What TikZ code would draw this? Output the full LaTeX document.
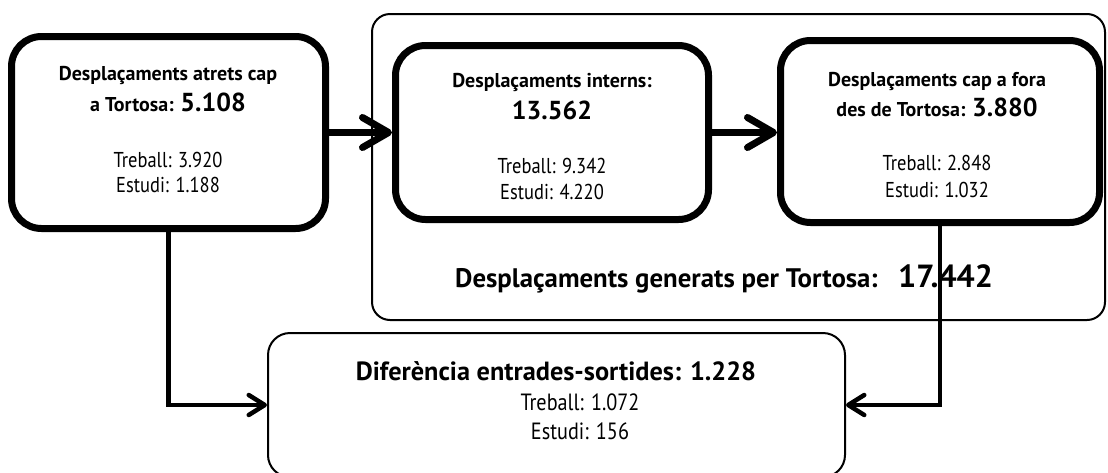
\documentclass[tikz,border=0pt]{standalone}
\usepackage{fontspec}
\setmainfont{PT Sans}
\newfontfamily\condfont[FakeStretch=0.86]{PT Sans}
\usetikzlibrary{arrows.meta}
\tikzset{
  bigbox/.style={draw, line width=7pt, rounded corners=30pt, inner sep=0pt},
  thinbox/.style={draw, line width=2pt, inner sep=0pt},
  hdr/.style={font=\bfseries\fontsize{20}{24}\selectfont, anchor=base, inner sep=0pt},
  subtxt/.style={font=\condfont\fontsize{21.5}{25}\selectfont, anchor=base, inner sep=0pt},
  dsub/.style={font=\condfont\fontsize{23.5}{27}\selectfont, anchor=base, inner sep=0pt},
  biglabel/.style={font=\bfseries\fontsize{26.8}{30}\selectfont, anchor=base west, inner sep=0pt},
  thickarrow/.style={line width=7pt, -{Straight Barb[length=26pt,width=30pt,round]}},
  thinarrow/.style={line width=4.5pt, -{Straight Barb[length=16pt,width=20pt,round]}},
}
\newcommand\bignum[1]{{\fontsize{26}{30}\selectfont #1}}
\begin{document}
\begin{tikzpicture}[x=1pt,y=-1pt]
\useasboundingbox (0,0) rectangle (1108,472);
\fill[white] (0,0) rectangle (1108,472);
% container
\node[thinbox, rounded corners=18pt, minimum width=733pt, minimum height=306pt] (G) at (738.5,167) {};
% boxes
\node[bigbox, minimum width=314pt, minimum height=192pt] (A) at (168.5,132.5) {};
\node[bigbox, minimum width=313pt, minimum height=174pt] (B) at (552,132.5) {};
\node[bigbox, minimum width=319pt, minimum height=182pt] (C) at (940,131.5) {};
\node[thinbox, rounded corners=22pt, minimum width=577pt, minimum height=144pt] (D) at (556.5,405) {};
% texts A
\node[hdr] (A1) at (168,80) {Desplaçaments atrets cap};
\node[hdr] (A2) at (168,111) {a Tortosa: \bignum{5.108}};
\node[subtxt] (A3) at (168,167) {Treball: 3.920};
\node[subtxt] (A4) at (168,192) {Estudi: 1.188};
% texts B
\node[hdr] (B1) at (552,87) {Desplaçaments interns:};
\node[hdr] (B2) at (552,119) {\bignum{13.562}};
\node[subtxt] (B3) at (552,173) {Treball: 9.342};
\node[subtxt] (B4) at (552,199) {Estudi: 4.220};
% texts C
\node[hdr] (C1) at (937,86.5) {Desplaçaments cap a fora};
\node[hdr] (C2) at (937,116.5) {des de Tortosa: \bignum{3.880}};
\node[subtxt] (C3) at (937,170) {Treball: 2.848};
\node[subtxt] (C4) at (937,197) {Estudi: 1.032};
% container label
\node[biglabel] (G1) at (455,287.5) {Desplaçaments generats per Tortosa:};
\node[biglabel, font=\bfseries\fontsize{32}{36}\selectfont] (G2) at (898,287) {17.442};
% texts D
\node[hdr, font=\bfseries\fontsize{26.3}{30}\selectfont] (D1) at (556,380) {Diferència entrades-sortides: 1.228};
\node[dsub] (D2) at (580,410) {Treball: 1.072};
\node[dsub] (D3) at (580,439) {Estudi: 156};
% connectors
\draw[thickarrow] (A.east) -- (B.west);
\draw[thickarrow] (B.east) -- (B.east -| C.west);
\draw[thinarrow] (A.south) |- (D.west);
\draw[thinarrow] (C.south) |- (D.east);
\end{tikzpicture}
\end{document}
